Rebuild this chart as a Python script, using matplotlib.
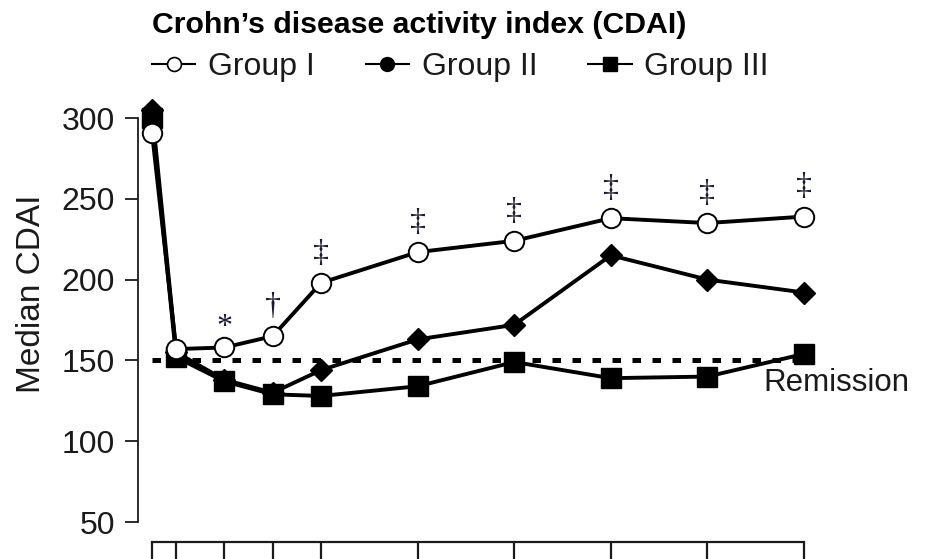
import matplotlib
matplotlib.use("Agg")
import matplotlib.pyplot as plt
from matplotlib.lines import Line2D

# visit weeks and median CDAI per group
weeks = [0, 2, 6, 10, 14, 22, 30, 38, 46, 54]
group1 = [291, 157, 158, 165, 198, 217, 224, 238, 235, 239]
group2 = [305, 155, 138, 130, 144, 163, 172, 215, 200, 192]
group3 = [300, 152, 137, 129, 128, 134, 149, 139, 140, 154]
remission = 150
yticks = [50, 100, 150, 200, 250, 300]

# significance marks above group I
marks = ["", "", "*", "\u2020", "\u2021", "\u2021", "\u2021", "\u2021", "\u2021", "\u2021"]

title = "Crohn\u2019s disease activity index (CDAI)"
labels = ["Group I", "Group II", "Group III"]

plt.rcParams["font.family"] = ["Liberation Sans", "DejaVu Sans"]
ink = "#1a1a1a"

W, H = 928, 559
fig = plt.figure(figsize=(W / 100, H / 100), dpi=100)
ax = fig.add_axes([138 / W, (H - 542) / H, (900 - 138) / W, (542 - 100) / H])

px_per_week = (804 - 152) / 54
val_per_px = 50 / 80.8
ax.set_xlim(-(152 - 138) / px_per_week, (900 - 152) / px_per_week)
ax.set_ylim(300 - (542 - 118) * val_per_px, 300 + (118 - 100) * val_per_px)

# remission threshold
ax.plot([weeks[0], weeks[-1]], [remission, remission], color="black", lw=3.6,
        linestyle=(0, (1.7, 2.3)), dash_capstyle="butt", zorder=2)

ax.plot(weeks, group2, color="black", lw=2.8, marker="D", ms=11,
        mfc="black", mec="black", zorder=3, clip_on=False)
ax.plot(weeks, group3, color="black", lw=2.8, marker="s", ms=14,
        mfc="black", mec="black", zorder=4, clip_on=False)
ax.plot(weeks, group1, color="black", lw=2.8, marker="o", ms=14,
        mfc="white", mec="black", mew=1.4, zorder=5, clip_on=False)

for x, y, m in zip(weeks, group1, marks):
    if m:
        off = 4 if m == "*" else 11
        ax.annotate(m, (x, y), xytext=(0, off), textcoords="offset points",
                    ha="center", va="bottom", fontsize=23, color="#1a1a33",
                    family=["Liberation Serif", "DejaVu Serif"])

ax.text(50.6, 136, "Remission", ha="left", va="center", fontsize=22.5, color=ink)

# axes styling
for s in ["top", "right"]:
    ax.spines[s].set_visible(False)
ax.spines["left"].set_bounds(50, 300)
ax.spines["left"].set_linewidth(1.3)
ax.spines["left"].set_color(ink)
ax.spines["bottom"].set_bounds(weeks[0], weeks[-1])
ax.spines["bottom"].set_linewidth(1.6)
ax.spines["bottom"].set_color(ink)

ax.set_yticks(yticks)
ax.tick_params(axis="y", direction="out", length=9.4, width=1.3, color=ink,
               labelsize=23, labelcolor=ink, pad=7)
ax.set_xticks(weeks)
ax.tick_params(axis="x", direction="out", length=20, width=1.6, color=ink,
               labelbottom=False)

fig.text(32 / W, 1 - 294 / H, "Median CDAI", rotation=90, ha="center",
         va="center", fontsize=24, color=ink)
fig.text(152 / W, 1 - 25 / H, title, ha="left", va="center", fontsize=21.8,
         fontweight="bold", color="black")

handles = [
    Line2D([], [], color="black", lw=1.5, marker="o", ms=10, mfc="white", mec="black", mew=1.2),
    Line2D([], [], color="black", lw=1.5, marker="o", ms=10, mfc="black", mec="black"),
    Line2D([], [], color="black", lw=1.5, marker="s", ms=9.5, mfc="black", mec="black"),
]
fig.legend(handles, labels, loc="center left", bbox_to_anchor=(152 / W, 1 - 67 / H),
           ncol=3, frameon=False, fontsize=23, handlelength=1.35,
           handletextpad=0.4, columnspacing=1.6, borderaxespad=0, borderpad=0,
           labelcolor=ink)

fig.savefig("out.png", dpi=100)
